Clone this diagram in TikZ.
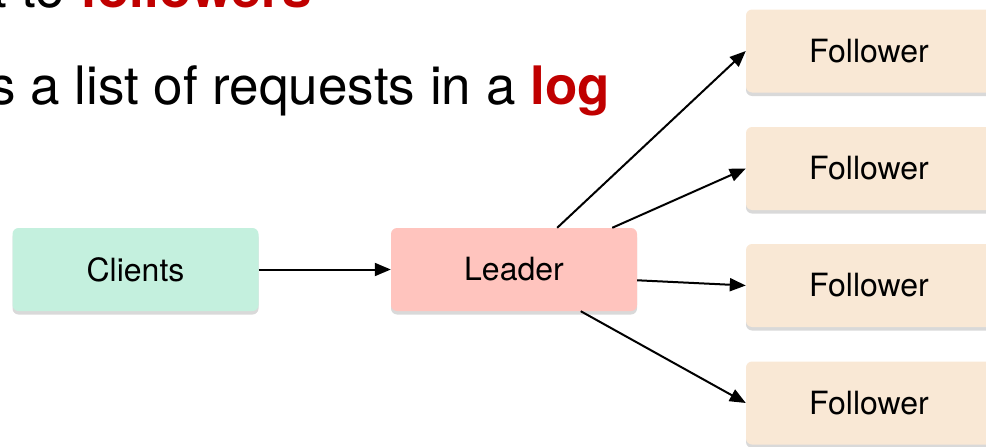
\documentclass[tikz,border=0pt]{standalone}
\usepackage{fontspec}
\setmainfont{TeX Gyre Heros}
\usetikzlibrary{arrows.meta,positioning,calc,shadows}
\definecolor{slidered}{RGB}{192,0,0}
\definecolor{clientfill}{RGB}{196,240,222}
\definecolor{leaderfill}{RGB}{255,196,190}
\definecolor{followerfill}{RGB}{249,232,213}

\begin{document}
\begin{tikzpicture}[x=1pt,y=-1pt,
  box/.style={rounded corners=6pt,minimum width=246pt,minimum height=83pt,inner sep=0pt,
    font=\fontsize{32}{36}\selectfont,
    drop shadow={shadow xshift=0pt,shadow yshift=-3.5pt,opacity=0.3}},
  arr/.style={-{Triangle[length=16pt,width=13pt]},line width=2pt}]
  \useasboundingbox (0,0) rectangle (986,447);
  \clip (0,0) rectangle (986,447);
  \node[anchor=base east,inner sep=0pt,font=\fontsize{53}{60}\selectfont] (line1) at (312,8) {t to \textcolor{slidered}{\textbf{followers}}}; % 上の行（切れている）
  \node[anchor=base east,inner sep=0pt,font=\fontsize{53}{60}\selectfont] (line2) at (610,104) {s a list of requests in a \textcolor{slidered}{\textbf{log}}}; % 2行目
  \node[box,fill=clientfill] (clients) at (135.5,269.5) {Clients}; % クライアント
  \node[box,fill=leaderfill] (leader) at (514,269.5) {Leader}; % リーダー
  \node[box,fill=followerfill] (f1) at (869,51) {Follower}; % フォロワー1
  \node[box,fill=followerfill] (f2) at (869,168.5) {Follower}; % フォロワー2
  \node[box,fill=followerfill] (f3) at (869,285.5) {Follower}; % フォロワー3
  \node[box,fill=followerfill] (f4) at (869,403) {Follower}; % フォロワー4
  \draw[arr] (clients) -- (leader); % クライアントからリーダーへ
  \draw[arr] (leader.44) -- (f1.west); % リーダーからフォロワー1へ
  \draw[arr] (leader.23) -- (f2.west);
  \draw[arr] (leader.-5) -- (f3.west);
  \draw[arr] (leader.-32) -- (f4.west);
\end{tikzpicture}
\end{document}
